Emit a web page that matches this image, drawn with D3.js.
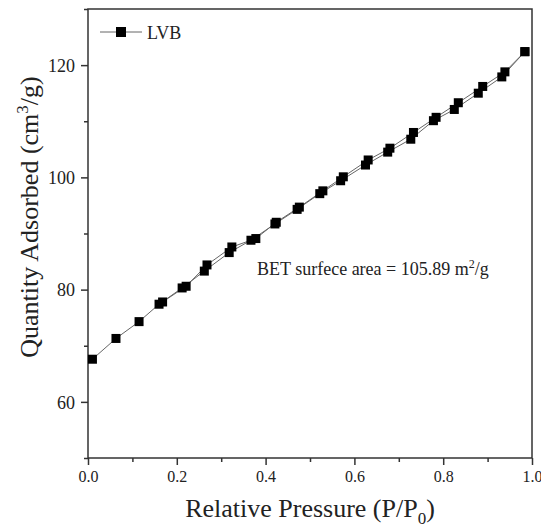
<!DOCTYPE html>
<html>
<head>
<meta charset="utf-8">
<script src="https://cdn.jsdelivr.net/npm/d3@7"></script>
<style>
  body { margin: 0; background: #fff; }
  svg text { font-family: "Liberation Serif", "Times New Roman", Tinos, "DejaVu Serif", serif; }
</style>
</head>
<body>
<svg id="chart" width="541" height="527"></svg>
<script>
// adsorption branch (P/P0, cm3/g)
const adsX = [0.010, 0.063, 0.115, 0.160, 0.212, 0.262, 0.318, 0.367, 0.421, 0.471, 0.522, 0.569, 0.625, 0.675, 0.727, 0.778, 0.825, 0.879, 0.932, 0.984];
const adsY = [67.6, 71.3, 74.3, 77.4, 80.3, 83.3, 86.6, 88.8, 91.7, 94.3, 97.1, 99.4, 102.2, 104.5, 106.8, 110.1, 112.1, 115.0, 117.9, 122.4];
// desorption branch
const desX = [0.984, 0.939, 0.889, 0.834, 0.784, 0.733, 0.680, 0.631, 0.575, 0.529, 0.476, 0.424, 0.378, 0.324, 0.268, 0.221, 0.168];
const desY = [122.4, 118.8, 116.2, 113.3, 110.7, 108.0, 105.2, 103.1, 100.1, 97.6, 94.7, 92.0, 89.1, 87.6, 84.4, 80.6, 77.8];

const xTicks = [0, 0.2, 0.4, 0.6, 0.8, 1.0];
const xMinor = [0.1, 0.3, 0.5, 0.7, 0.9];
const yTicks = [60, 80, 100, 120];
const yMinor = [50, 70, 90, 110, 130];

const margin = {top: 9, right: 9, bottom: 69, left: 88};
const width = 541 - margin.left - margin.right;
const height = 527 - margin.top - margin.bottom;

const serif = '"Liberation Serif", "Times New Roman", Tinos, "DejaVu Serif", serif';

const svg = d3.select('#chart');
const g = svg.append('g').attr('transform', `translate(${margin.left},${margin.top})`);

const x = d3.scaleLinear().domain([0, 1]).range([0, width]);
const y = d3.scaleLinear().domain([50, 130]).range([height, 0]);

const axisColor = '#333';

// minor ticks
g.append('g')
  .attr('transform', `translate(0,${height})`)
  .call(d3.axisBottom(x).tickValues(xMinor).tickSize(4).tickFormat(''));
g.append('g')
  .call(d3.axisLeft(y).tickValues(yMinor).tickSize(4).tickFormat(''));

// major ticks
let xAxis = g.append('g')
  .attr('transform', `translate(0,${height})`)
  .call(d3.axisBottom(x).tickValues(xTicks).tickSize(7).tickPadding(6).tickFormat(d3.format('.1f')));
xAxis.attr('font-family', serif);
xAxis.selectAll('text').style('font-size', '16px');

let yAxis = g.append('g')
  .call(d3.axisLeft(y).tickValues(yTicks).tickSize(7).tickPadding(6));
yAxis.attr('font-family', serif);
yAxis.selectAll('text').style('font-size', '18px').attr('dy', '0.34em');

g.selectAll('.domain').remove();
g.selectAll('.tick line').attr('stroke', axisColor).attr('stroke-width', 1.5);
g.selectAll('.tick text').attr('fill', '#222');

// frame
g.append('rect')
  .attr('width', width).attr('height', height)
  .attr('fill', 'none').attr('stroke', axisColor).attr('stroke-width', 1.5);

// lines
const line = d3.line().x(d => x(d[0])).y(d => y(d[1]));
const ads = adsX.map((v, i) => [v, adsY[i]]);
const des = desX.map((v, i) => [v, desY[i]]);

[ads, des].forEach(series => {
  g.append('path')
    .datum(series)
    .attr('d', line)
    .attr('fill', 'none')
    .attr('stroke', '#666')
    .attr('stroke-width', 1);
});

const sq = 9;
[ads, des].forEach(series => {
  g.selectAll(null)
    .data(series)
    .enter()
    .append('rect')
    .attr('x', d => x(d[0]) - sq / 2)
    .attr('y', d => y(d[1]) - sq / 2)
    .attr('width', sq).attr('height', sq)
    .attr('fill', '#000');
});

// legend
const leg = svg.append('g').attr('transform', 'translate(100,32)');
leg.append('line').attr('x1', 0).attr('x2', 42).attr('y1', 0).attr('y2', 0)
  .attr('stroke', '#666').attr('stroke-width', 1);
leg.append('rect').attr('x', 16).attr('y', -5).attr('width', 10).attr('height', 10).attr('fill', '#000');
leg.append('text').attr('x', 47).attr('y', 7).style('font-size', '18px').attr('fill', '#222').text('LVB');

// annotation
const ann = svg.append('text').attr('x', 257).attr('y', 275).style('font-size', '18px').attr('fill', '#222');
ann.append('tspan').text('BET surfece area = 105.89 m');
ann.append('tspan').attr('dy', -7).style('font-size', '12px').text('2');
ann.append('tspan').attr('dy', 7).text('/g');

// x title
const xt = svg.append('text')
  .attr('x', margin.left + width / 2).attr('y', 517)
  .attr('text-anchor', 'middle').style('font-size', '26px').attr('fill', '#222');
xt.append('tspan').text('Relative Pressure (P/P');
xt.append('tspan').attr('dy', 7).style('font-size', '17px').text('0');
xt.append('tspan').attr('dy', -7).text(')');

// y title
const yt = svg.append('text')
  .attr('transform', 'translate(38,217) rotate(-90)')
  .attr('text-anchor', 'middle').style('font-size', '26px').attr('fill', '#222');
yt.append('tspan').text('Quantity Adsorbed (cm');
yt.append('tspan').attr('dy', -10).style('font-size', '17px').text('3');
yt.append('tspan').attr('dy', 10).text('/g)');
</script>
</body>
</html>
